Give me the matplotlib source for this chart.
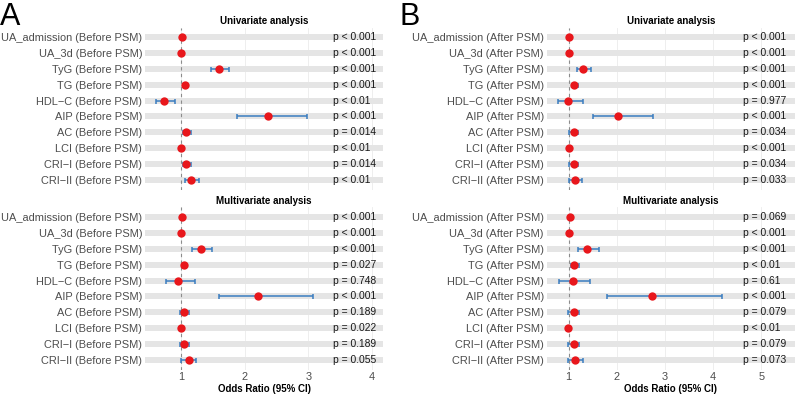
import matplotlib.pyplot as plt

plt.rcParams['font.family'] = ['Liberation Sans', 'DejaVu Sans']

variables = ['UA_admission', 'UA_3d', 'TyG', 'TG', 'HDL−C', 'AIP', 'AC', 'LCI', 'CRI−I', 'CRI−II']

# panel A: before PSM
a_uni_or = [1.01, 1.005, 1.60, 1.07, 0.73, 2.37, 1.08, 1.00, 1.08, 1.16]
a_uni_lo = [1.00, 1.000, 1.47, 1.04, 0.60, 1.88, 1.03, 0.99, 1.03, 1.07]
a_uni_hi = [1.02, 1.010, 1.76, 1.10, 0.91, 2.98, 1.16, 1.01, 1.16, 1.28]
a_uni_p = ['p < 0.001', 'p < 0.001', 'p < 0.001', 'p < 0.001', 'p < 0.01',
           'p < 0.001', 'p = 0.014', 'p < 0.01', 'p = 0.014', 'p < 0.01']

a_multi_or = [1.01, 1.005, 1.32, 1.05, 0.96, 2.21, 1.05, 1.00, 1.05, 1.12]
a_multi_lo = [1.00, 1.000, 1.17, 1.02, 0.76, 1.59, 0.98, 0.99, 0.98, 1.00]
a_multi_hi = [1.02, 1.010, 1.49, 1.08, 1.22, 3.08, 1.13, 1.01, 1.13, 1.24]
a_multi_p = ['p < 0.001', 'p < 0.001', 'p < 0.001', 'p = 0.027', 'p = 0.748',
             'p < 0.001', 'p = 0.189', 'p = 0.022', 'p = 0.189', 'p = 0.055']

# panel B: after PSM
b_uni_or = [1.01, 1.01, 1.30, 1.12, 0.99, 2.02, 1.10, 1.00, 1.10, 1.13]
b_uni_lo = [1.00, 1.00, 1.17, 1.06, 0.77, 1.50, 1.01, 0.99, 1.01, 1.01]
b_uni_hi = [1.02, 1.02, 1.47, 1.19, 1.30, 2.75, 1.19, 1.01, 1.19, 1.28]
b_uni_p = ['p < 0.001', 'p < 0.001', 'p < 0.001', 'p < 0.001', 'p = 0.977',
           'p < 0.001', 'p = 0.034', 'p < 0.001', 'p = 0.034', 'p = 0.033']

b_multi_or = [1.02, 1.01, 1.39, 1.12, 1.08, 2.74, 1.10, 0.99, 1.10, 1.13]
b_multi_lo = [1.01, 1.00, 1.20, 1.04, 0.79, 1.79, 0.98, 0.98, 0.98, 0.98]
b_multi_hi = [1.03, 1.02, 1.62, 1.21, 1.44, 4.19, 1.21, 1.00, 1.21, 1.30]
b_multi_p = ['p = 0.069', 'p < 0.001', 'p < 0.001', 'p < 0.01', 'p = 0.61',
             'p < 0.001', 'p = 0.079', 'p < 0.01', 'p = 0.079', 'p = 0.073']

W, H = 795, 396


def forest(rect, odds, lo, hi, pvals, suffix, xlim, xticks, ptext_x, title, bottom):
    l, t, r, b = rect
    ax = fig.add_axes([l / W, 1 - b / H, (r - l) / W, (b - t) / H])
    n = len(odds)
    ys = list(range(n))
    ax.set_xlim(*xlim)
    ax.set_ylim(n - 0.4, -0.6)
    ax.barh(ys, xlim[1] - xlim[0], left=xlim[0], height=0.38, color='#e5e5e5', zorder=1)
    ax.axvline(1, color='#8c8c8c', lw=0.8, ls=(0, (3, 3)), zorder=2)
    err = [[o - a for o, a in zip(odds, lo)], [c - o for o, c in zip(odds, hi)]]
    ax.errorbar(odds, ys, xerr=err, fmt='none', ecolor='#3b7dc0', elinewidth=1.1,
                capsize=1.8, capthick=1.1, zorder=3)
    ax.scatter(odds, ys, s=36, color='#e8171c', zorder=4, linewidths=0)
    for y, p in zip(ys, pvals):
        ax.text(ptext_x, y, p, ha='left', va='center', fontsize=7.4, color='#1a1a1a')
    ax.set_yticks(ys)
    ax.set_yticklabels(['%s (%s)' % (v, suffix) for v in variables], fontsize=7.95, color='#4d4d4d')
    ax.set_xticks(xticks)
    ax.grid(axis='x', color='#ebebeb', lw=0.6, zorder=0)
    ax.set_axisbelow(True)
    ax.tick_params(length=0, pad=2)
    for s in ax.spines.values():
        s.set_visible(False)
    ax.set_title(title, fontsize=7.0, fontweight='bold', pad=2.5)
    if bottom:
        ax.set_xticklabels([str(x) for x in xticks], fontsize=7.95, color='#4d4d4d')
        ax.set_xlabel('Odds Ratio (95% CI)', fontsize=7.0, fontweight='bold', labelpad=1.5)
    else:
        ax.set_xticklabels([])
    return ax


fig = plt.figure(figsize=(W / 100, H / 100), dpi=100)

xa = (0.434, 4.176)
xb = (0.543, 5.70)
forest((145, 27.5, 383, 189.5), a_uni_or, a_uni_lo, a_uni_hi, a_uni_p, 'Before PSM',
       xa, [1, 2, 3, 4], 3.39, 'Univariate analysis', False)
forest((145, 207.5, 383, 369.5), a_multi_or, a_multi_lo, a_multi_hi, a_multi_p, 'Before PSM',
       xa, [1, 2, 3, 4], 3.39, 'Multivariate analysis', True)
forest((546.7, 27.5, 795, 189.5), b_uni_or, b_uni_lo, b_uni_hi, b_uni_p, 'After PSM',
       xb, [1, 2, 3, 4, 5], 4.62, 'Univariate analysis', False)
forest((546.7, 207.5, 795, 369.5), b_multi_or, b_multi_lo, b_multi_hi, b_multi_p, 'After PSM',
       xb, [1, 2, 3, 4, 5], 4.62, 'Multivariate analysis', True)

fig.text(0 / W, 1 - 25 / H, 'A', fontsize=22, va='baseline', ha='left')
fig.text(399 / W, 1 - 25 / H, 'B', fontsize=22, va='baseline', ha='left')

fig.savefig('out.png', dpi=100)
